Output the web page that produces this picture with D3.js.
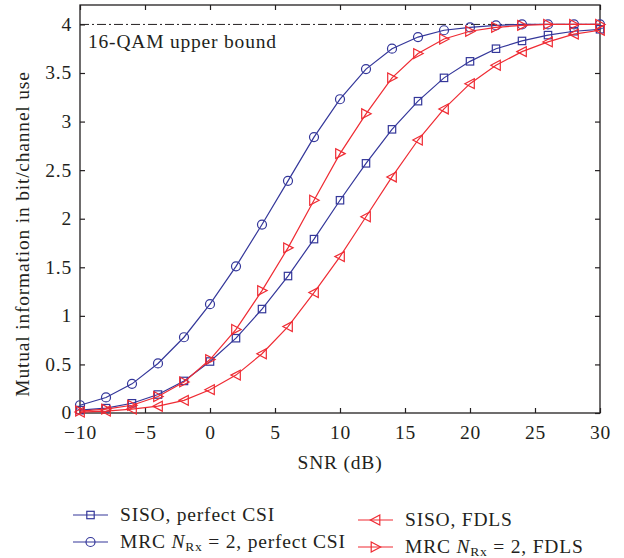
<!DOCTYPE html>
<html><head><meta charset="utf-8">
<script src="https://cdn.jsdelivr.net/npm/d3@7"></script>
<style>body{margin:0;background:#fff}svg text{font-family:"Liberation Serif","DejaVu Serif",serif;fill:#231f20;letter-spacing:0.8px}</style>
</head><body><svg id="c" width="624" height="558"></svg>
<script>
const snr = [-10,-8,-6,-4,-2,0,2,4,6,8,10,12,14,16,18,20,22,24,26,28,30];
const sisoCSI = [0.03,0.05,0.10,0.19,0.33,0.53,0.77,1.07,1.41,1.79,2.19,2.57,2.92,3.21,3.45,3.62,3.75,3.83,3.89,3.93,3.95];
const mrcCSI  = [0.08,0.16,0.30,0.51,0.78,1.12,1.51,1.94,2.39,2.84,3.23,3.54,3.75,3.87,3.94,3.97,3.99,4.0,4.0,4.0,4.0];
const sisoFDLS= [0.01,0.02,0.04,0.07,0.13,0.24,0.39,0.61,0.89,1.24,1.61,2.02,2.43,2.81,3.13,3.39,3.58,3.72,3.82,3.90,3.94];
const mrcFDLS = [0.02,0.04,0.08,0.17,0.32,0.55,0.86,1.26,1.70,2.19,2.67,3.08,3.45,3.70,3.85,3.93,3.97,3.99,4.0,4.0,4.0];
const xTicks = [-10,-5,0,5,10,15,20,25,30];
const yTicks = [0,0.5,1,1.5,2,2.5,3,3.5,4];
const bound = 4;

const BLUE="#34379a", RED="#ef2b33";
const FS=19.5;
const series = [
  {name:"SISO, perfect CSI", vals:sisoCSI, color:BLUE, m:"square"},
  {name:"MRC_CSI", vals:mrcCSI, color:BLUE, m:"circle"},
  {name:"SISO, FDLS", vals:sisoFDLS, color:RED, m:"left"},
  {name:"MRC_FDLS", vals:mrcFDLS, color:RED, m:"right"}
];
const svg = d3.select("#c");
const L=80,R=600,T=5,B=413;
const x = d3.scaleLinear().domain([-10,30]).range([L,R]);
const y = d3.scaleLinear().domain([0,4.2]).range([B,T]);

const tl=5;
const fmt = d=> d<0 ? "\u2212"+Math.abs(d) : String(d);
svg.append("g").attr("transform",`translate(0,${B})`).call(d3.axisBottom(x).tickValues(xTicks).tickSize(-tl).tickPadding(12).tickFormat(fmt))
  .call(g=>{g.select(".domain").remove();g.selectAll("text").attr("font-size",FS);});
svg.append("g").attr("transform",`translate(0,${T})`).call(d3.axisTop(x).tickValues(xTicks).tickSize(-tl).tickFormat(""))
  .call(g=>g.select(".domain").remove());
svg.append("g").attr("transform",`translate(${L},0)`).call(d3.axisLeft(y).tickValues(yTicks).tickSize(-tl).tickPadding(8).tickFormat(d=>String(d)))
  .call(g=>{g.select(".domain").remove();g.selectAll("text").attr("font-size",FS).attr("dy","0.3em");});
svg.append("g").attr("transform",`translate(${R},0)`).call(d3.axisRight(y).tickValues(yTicks).tickSize(-tl).tickFormat(""))
  .call(g=>g.select(".domain").remove());
svg.selectAll(".tick line").attr("stroke","#231f20").attr("stroke-width",1.2);
svg.append("rect").attr("x",L).attr("y",T).attr("width",R-L).attr("height",B-T).attr("fill","none").attr("stroke","#231f20").attr("stroke-width",1.3);

svg.append("line").attr("x1",L).attr("x2",R).attr("y1",y(bound)).attr("y2",y(bound))
  .attr("stroke","#231f20").attr("stroke-width",1).attr("stroke-dasharray","9,3,2,3");
svg.append("text").attr("x",88).attr("y",48).attr("font-size",FS).text("16-QAM upper bound");

function marker(g, type, color){
  const s=4.3;
  if(type==="square") g.append("rect").attr("x",-3.7).attr("y",-3.7).attr("width",7.4).attr("height",7.4);
  else if(type==="circle") g.append("circle").attr("r",4.5);
  else if(type==="left") g.append("path").attr("d",`M${-s*1.2},0L${s},${-s*1.15}L${s},${s*1.15}Z`);
  else g.append("path").attr("d",`M${s*1.2},0L${-s},${-s*1.15}L${-s},${s*1.15}Z`);
  g.selectAll("*").attr("fill","none").attr("stroke",color).attr("stroke-width",1.2);
}

const line = d3.line().x((d,i)=>x(snr[i])).y(d=>y(d));
series.forEach(s=>{
  svg.append("path").attr("d",line(s.vals)).attr("fill","none").attr("stroke",s.color).attr("stroke-width",1.2);
  s.vals.forEach((v,i)=>{
    const g=svg.append("g").attr("transform",`translate(${x(snr[i])},${y(v)})`);
    marker(g,s.m,s.color);
  });
});

svg.append("text").attr("x",(L+R)/2).attr("y",469).attr("text-anchor","middle").attr("font-size",FS).text("SNR (dB)");
svg.append("text").attr("transform",`translate(29,${(T+B)/2+25}) rotate(-90)`).attr("text-anchor","middle").attr("font-size",FS)
  .text("Mutual information in bit/channel use");

const leg = [
  {s:series[0], x:73, y:515},
  {s:series[1], x:73, y:542},
  {s:series[2], x:358, y:520},
  {s:series[3], x:358, y:547}
];
leg.forEach((l,i)=>{
  svg.append("line").attr("x1",l.x).attr("x2",l.x+35).attr("y1",l.y).attr("y2",l.y).attr("stroke",l.s.color).attr("stroke-width",1.2);
  marker(svg.append("g").attr("transform",`translate(${l.x+17.5},${l.y})`), l.s.m, l.s.color);
  const t = svg.append("text").attr("x",l.x+47).attr("y",l.y+6).attr("font-size",FS);
  if(i===0||i===2) t.text(l.s.name);
  else {
    t.append("tspan").text("MRC ");
    t.append("tspan").attr("font-style","italic").text("N");
    t.append("tspan").attr("font-size",13.5).attr("dy",3).text("Rx");
    t.append("tspan").attr("dy",-3).text(i===1?" = 2, perfect CSI":" = 2, FDLS");
  }
});
</script></body></html>
